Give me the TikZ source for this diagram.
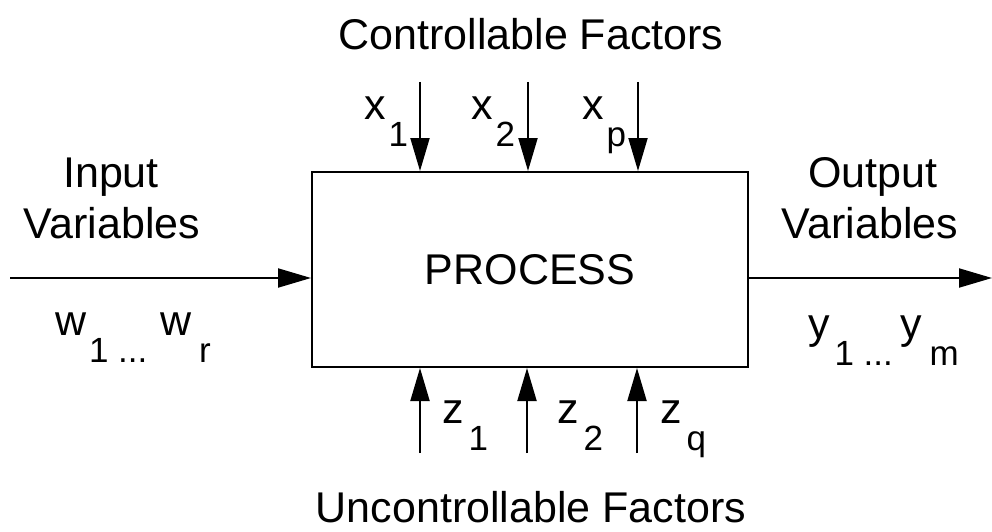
\documentclass[tikz,border=0pt]{standalone}
\usepackage{fontspec}
\setmainfont{Liberation Sans}
\usetikzlibrary{arrows.meta}
% subscript set low and to the right, as in the factor labels;
% the optional argument is the gap before it
\newcommand{\lowsub}[2][3pt]{\kern#1\raisebox{-27pt}{\fontsize{35}{40}\selectfont #2}}
\begin{document}
\begin{tikzpicture}[x=1pt,y=-1pt,
  lbl/.style={inner sep=0pt, outer sep=0pt, font=\fontsize{43}{50}\selectfont},
  sublbl/.style={lbl, anchor=base west},
  arr/.style={line width=2pt, -{Triangle[length=33pt,width=19pt]}},
  procbox/.style={draw, line width=2pt, minimum width=436pt, minimum height=195pt,
    inner sep=0pt, font=\fontsize{43}{50}\selectfont}]
  \useasboundingbox (0,0) rectangle (992,532);

  % the process block
  \node[procbox] (proc) at (530,269.5) {PROCESS};

  % group headings
  \node[lbl, anchor=base] (ctl) at (531,50) {Controllable Factors};
  \node[lbl, anchor=base] (unc) at (531,522) {Uncontrollable Factors};
  \node[lbl, anchor=base] (inA) at (111,187) {Input};
  \node[lbl, anchor=base] (inB) at (112,238) {Variables};
  \node[lbl, anchor=base] (outA) at (873,187) {Output};
  \node[lbl, anchor=base] (outB) at (870,238) {Variables};

  % free ends of the connectors
  \coordinate (xa) at (420,82);
  \coordinate (xb) at (528,82);
  \coordinate (xc) at (638,82);
  \coordinate (za) at (420,453);
  \coordinate (zb) at (527,453);
  \coordinate (zc) at (637,453);
  \coordinate (win) at (10,278);
  \coordinate (yout) at (992,278);

  % controllable factors enter from above
  \draw[arr] (xa) -- (xa |- proc.north);
  \draw[arr] (xb) -- (xb |- proc.north);
  \draw[arr] (xc) -- (xc |- proc.north);
  % uncontrollable factors enter from below
  \draw[arr] (za) -- (za |- proc.south);
  \draw[arr] (zb) -- (zb |- proc.south);
  \draw[arr] (zc) -- (zc |- proc.south);
  % inputs and outputs
  \draw[arr] (win) -- (win -| proc.west);
  \draw[arr] (yout -| proc.east) -- (yout);

  % variable labels
  \node[sublbl] (lx1) at (364,120) {x\lowsub{1}};
  \node[sublbl] (lx2) at (471,120) {x\lowsub{2}};
  \node[sublbl] (lxp) at (582,120) {x\lowsub{p}};
  \node[sublbl] (lz1) at (442,423) {z\lowsub[5pt]{1}};
  \node[sublbl] (lz2) at (557,423) {z\lowsub[5pt]{2}};
  \node[sublbl] (lzq) at (660,423) {z\lowsub[5pt]{q}};
  \node[sublbl] (lw1) at (55,335) {w\lowsub{1 ...}};
  \node[sublbl] (lwr) at (160,335) {w\lowsub[8pt]{r}};
  \node[sublbl] (ly1) at (808,338) {y\lowsub[5pt]{1 ...}};
  \node[sublbl] (lym) at (900,338) {y\lowsub[8pt]{m}};
\end{tikzpicture}
\end{document}
